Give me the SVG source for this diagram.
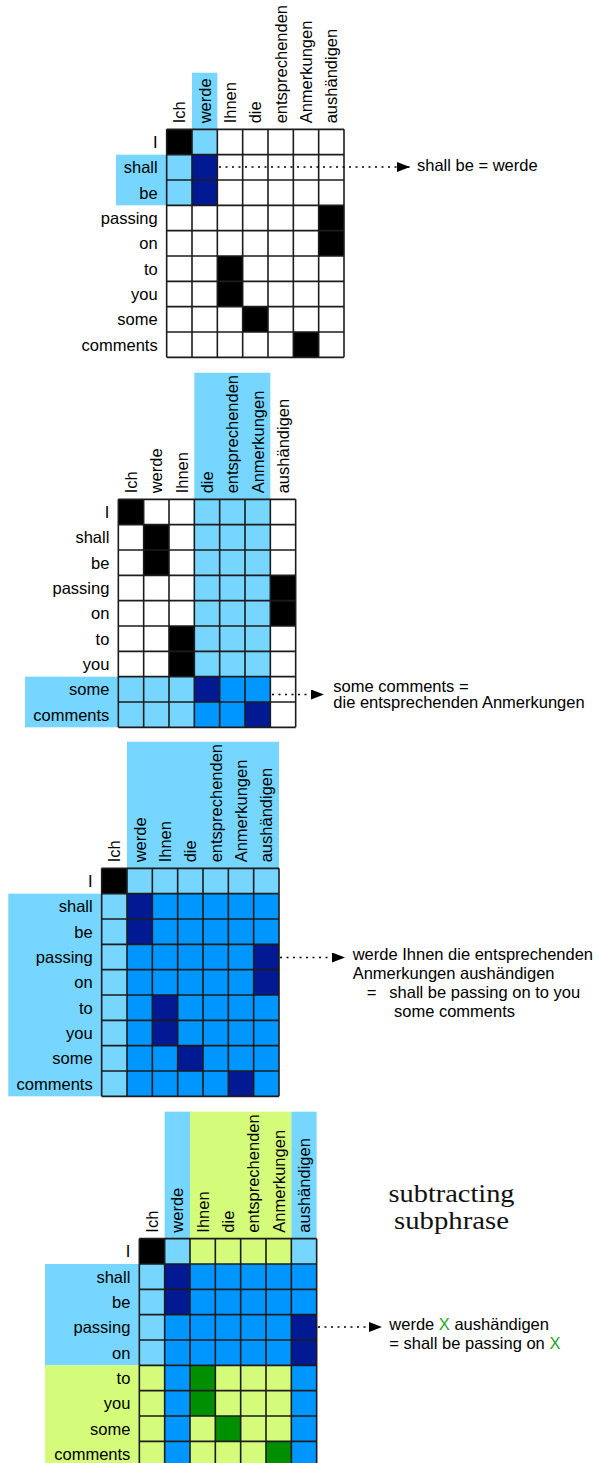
<svg xmlns="http://www.w3.org/2000/svg" xmlns:xlink="http://www.w3.org/1999/xlink" width="598" height="1463" viewBox="0 0 598 1463">
<style>
text{font-family:"Liberation Sans",Arial,Helvetica,sans-serif;font-size:16.5px;fill:#000}
.rl{text-anchor:end}
.w{fill:#fff}.k{fill:#000}.lb{fill:#76D6FF}.mb{fill:#0096FF}.nv{fill:#011993}.yg{fill:#D4FB79}.gr{fill:#008F00}
.grid{fill:none;stroke:#1c1c1c;stroke-width:1.6}
.dot{fill:none;stroke:#000;stroke-width:1.3;stroke-dasharray:2 4.5}
.serif{font-family:"Liberation Serif","Times New Roman",serif;font-size:26px;text-anchor:middle;fill:#111}
.gx{fill:#1DA81D}
</style>
<defs>
<path id="grid" class="grid" d="M0,0V228M25.33,0V228M50.67,0V228M76,0V228M101.33,0V228M126.67,0V228M152,0V228M177.33,0V228M0,0H177.33M0,25.33H177.33M0,50.67H177.33M0,76H177.33M0,101.33H177.33M0,126.67H177.33M0,152H177.33M0,177.33H177.33M0,202.67H177.33M0,228H177.33"/>
<marker id="ah" viewBox="0 0 13 10" refX="13" refY="5" markerWidth="13" markerHeight="10" orient="auto" markerUnits="userSpaceOnUse"><path d="M0,0L13,5L0,10z" fill="#000"/></marker>
</defs>

<g id="panel1" transform="translate(166.67,129.33)">
<rect class="lb" x="25.33" y="-56.6" width="25.34" height="56.6"/>
<rect class="lb" x="-50.7" y="25.33" width="50.7" height="50.67"/>
<rect class="w" x="0" y="0" width="177.33" height="228"/>
<rect class="k" x="0" y="0" width="25.33" height="25.33"/>
<rect class="lb" x="25.33" y="0" width="25.34" height="25.33"/>
<rect class="lb" x="0" y="25.33" width="25.33" height="50.67"/>
<rect class="nv" x="25.33" y="25.33" width="25.34" height="50.67"/>
<rect class="k" x="152" y="76" width="25.33" height="50.67"/>
<rect class="k" x="50.67" y="126.67" width="25.33" height="50.66"/>
<rect class="k" x="76" y="177.33" width="25.33" height="25.34"/>
<rect class="k" x="126.67" y="202.67" width="25.33" height="25.33"/>
<use xlink:href="#grid" href="#grid"/>
<text transform="translate(18.67,-6) rotate(-90)">Ich</text>
<text transform="translate(44,-6) rotate(-90)">werde</text>
<text transform="translate(69.33,-6) rotate(-90)">Ihnen</text>
<text transform="translate(94.67,-6) rotate(-90)">die</text>
<text transform="translate(120,-6) rotate(-90)">entsprechenden</text>
<text transform="translate(145.33,-6) rotate(-90)">Anmerkungen</text>
<text transform="translate(170.67,-6) rotate(-90)">aushändigen</text>
<text class="rl" x="-9" y="18.67">I</text>
<text class="rl" x="-9" y="44">shall</text>
<text class="rl" x="-9" y="69.33">be</text>
<text class="rl" x="-9" y="94.67">passing</text>
<text class="rl" x="-9" y="120">on</text>
<text class="rl" x="-9" y="145.33">to</text>
<text class="rl" x="-9" y="170.67">you</text>
<text class="rl" x="-9" y="196">some</text>
<text class="rl" x="-9" y="221.33">comments</text>
</g>

<g id="panel2" transform="translate(118.33,499.33)">
<rect class="lb" x="76" y="-126.6" width="76" height="126.6"/>
<rect class="lb" x="-93.3" y="177.33" width="93.3" height="50.67"/>
<rect class="w" x="0" y="0" width="177.33" height="228"/>
<rect class="lb" x="76" y="0" width="76" height="177.33"/>
<rect class="lb" x="0" y="177.33" width="76" height="50.67"/>
<rect class="k" x="0" y="0" width="25.33" height="25.33"/>
<rect class="k" x="25.33" y="25.33" width="25.34" height="50.67"/>
<rect class="k" x="152" y="76" width="25.33" height="50.67"/>
<rect class="k" x="50.67" y="126.67" width="25.33" height="50.66"/>
<rect class="nv" x="76" y="177.33" width="25.33" height="25.34"/>
<rect class="mb" x="101.33" y="177.33" width="50.67" height="25.34"/>
<rect class="mb" x="76" y="202.67" width="50.67" height="25.33"/>
<rect class="nv" x="126.67" y="202.67" width="25.33" height="25.33"/>
<use xlink:href="#grid" href="#grid"/>
<text transform="translate(18.67,-6) rotate(-90)">Ich</text>
<text transform="translate(44,-6) rotate(-90)">werde</text>
<text transform="translate(69.33,-6) rotate(-90)">Ihnen</text>
<text transform="translate(94.67,-6) rotate(-90)">die</text>
<text transform="translate(120,-6) rotate(-90)">entsprechenden</text>
<text transform="translate(145.33,-6) rotate(-90)">Anmerkungen</text>
<text transform="translate(170.67,-6) rotate(-90)">aushändigen</text>
<text class="rl" x="-9" y="18.67">I</text>
<text class="rl" x="-9" y="44">shall</text>
<text class="rl" x="-9" y="69.33">be</text>
<text class="rl" x="-9" y="94.67">passing</text>
<text class="rl" x="-9" y="120">on</text>
<text class="rl" x="-9" y="145.33">to</text>
<text class="rl" x="-9" y="170.67">you</text>
<text class="rl" x="-9" y="196">some</text>
<text class="rl" x="-9" y="221.33">comments</text>
</g>

<g id="panel3" transform="translate(101.67,868.33)">
<rect class="lb" x="25.33" y="-126.6" width="152" height="126.6"/>
<rect class="lb" x="-93.4" y="25.33" width="93.4" height="202.67"/>
<rect class="mb" x="0" y="0" width="177.33" height="228"/>
<rect class="lb" x="0" y="0" width="177.33" height="25.33"/>
<rect class="lb" x="0" y="0" width="25.33" height="228"/>
<rect class="k" x="0" y="0" width="25.33" height="25.33"/>
<rect class="nv" x="25.33" y="25.33" width="25.34" height="50.67"/>
<rect class="nv" x="152" y="76" width="25.33" height="50.67"/>
<rect class="nv" x="50.67" y="126.67" width="25.33" height="50.66"/>
<rect class="nv" x="76" y="177.33" width="25.33" height="25.34"/>
<rect class="nv" x="126.67" y="202.67" width="25.33" height="25.33"/>
<use xlink:href="#grid" href="#grid"/>
<text transform="translate(18.67,-6) rotate(-90)">Ich</text>
<text transform="translate(44,-6) rotate(-90)">werde</text>
<text transform="translate(69.33,-6) rotate(-90)">Ihnen</text>
<text transform="translate(94.67,-6) rotate(-90)">die</text>
<text transform="translate(120,-6) rotate(-90)">entsprechenden</text>
<text transform="translate(145.33,-6) rotate(-90)">Anmerkungen</text>
<text transform="translate(170.67,-6) rotate(-90)">aushändigen</text>
<text class="rl" x="-9" y="18.67">I</text>
<text class="rl" x="-9" y="44">shall</text>
<text class="rl" x="-9" y="69.33">be</text>
<text class="rl" x="-9" y="94.67">passing</text>
<text class="rl" x="-9" y="120">on</text>
<text class="rl" x="-9" y="145.33">to</text>
<text class="rl" x="-9" y="170.67">you</text>
<text class="rl" x="-9" y="196">some</text>
<text class="rl" x="-9" y="221.33">comments</text>
</g>

<g id="panel4" transform="translate(139.33,1238.67)">
<rect class="lb" x="25.33" y="-127" width="25.34" height="127"/>
<rect class="yg" x="50.67" y="-127" width="101.33" height="127"/>
<rect class="lb" x="152" y="-127" width="25.33" height="127"/>
<rect class="lb" x="-94.3" y="25.33" width="94.3" height="101.34"/>
<rect class="yg" x="-94.3" y="126.67" width="94.3" height="101.33"/>
<rect class="mb" x="0" y="0" width="177.33" height="228"/>
<rect class="lb" x="0" y="0" width="177.33" height="25.33"/>
<rect class="yg" x="50.67" y="0" width="101.33" height="25.33"/>
<rect class="lb" x="0" y="25.33" width="25.33" height="101.34"/>
<rect class="yg" x="0" y="126.67" width="25.33" height="101.33"/>
<rect class="yg" x="50.67" y="126.67" width="101.33" height="101.33"/>
<rect class="k" x="0" y="0" width="25.33" height="25.33"/>
<rect class="nv" x="25.33" y="25.33" width="25.34" height="50.67"/>
<rect class="nv" x="152" y="76" width="25.33" height="50.67"/>
<rect class="gr" x="50.67" y="126.67" width="25.33" height="50.66"/>
<rect class="gr" x="76" y="177.33" width="25.33" height="25.34"/>
<rect class="gr" x="126.67" y="202.67" width="25.33" height="25.33"/>
<use xlink:href="#grid" href="#grid"/>
<text transform="translate(18.67,-6) rotate(-90)">Ich</text>
<text transform="translate(44,-6) rotate(-90)">werde</text>
<text transform="translate(69.33,-6) rotate(-90)">Ihnen</text>
<text transform="translate(94.67,-6) rotate(-90)">die</text>
<text transform="translate(120,-6) rotate(-90)">entsprechenden</text>
<text transform="translate(145.33,-6) rotate(-90)">Anmerkungen</text>
<text transform="translate(170.67,-6) rotate(-90)">aushändigen</text>
<text class="rl" x="-9" y="18.67">I</text>
<text class="rl" x="-9" y="44">shall</text>
<text class="rl" x="-9" y="69.33">be</text>
<text class="rl" x="-9" y="94.67">passing</text>
<text class="rl" x="-9" y="120">on</text>
<text class="rl" x="-9" y="145.33">to</text>
<text class="rl" x="-9" y="170.67">you</text>
<text class="rl" x="-9" y="196">some</text>
<text class="rl" x="-9" y="221.33">comments</text>
</g>

<g id="connectors">
<path class="dot" d="M219,167H410" marker-end="url(#ah)"/>
<path class="dot" d="M272,694.5H324" marker-end="url(#ah)"/>
<path class="dot" d="M280,957.5H345" marker-end="url(#ah)"/>
<path class="dot" d="M318,1327H382" marker-end="url(#ah)"/>
</g>

<g id="note1">
<text x="417" y="171">shall be = werde</text>
</g>
<g id="note2">
<text x="333.3" y="691.5">some comments =</text>
<text x="333.3" y="708">die entsprechenden Anmerkungen</text>
</g>
<g id="note3">
<text x="352.7" y="960">werde Ihnen die entsprechenden</text>
<text x="352.7" y="978.5">Anmerkungen aushändigen</text>
<text x="366.7" y="998">=</text>
<text x="389.3" y="998">shall be passing on to you</text>
<text x="394" y="1017">some comments</text>
</g>
<g id="title">
<text class="serif" x="451.5" y="1201.7" textLength="126" lengthAdjust="spacingAndGlyphs">subtracting</text>
<text class="serif" x="451.5" y="1229.3" textLength="115" lengthAdjust="spacingAndGlyphs">subphrase</text>
</g>
<g id="note4">
<text x="389.3" y="1329.5">werde <tspan class="gx">X</tspan> aushändigen</text>
<text x="389.3" y="1348.5">= shall be passing on <tspan class="gx">X</tspan></text>
</g>
</svg>
